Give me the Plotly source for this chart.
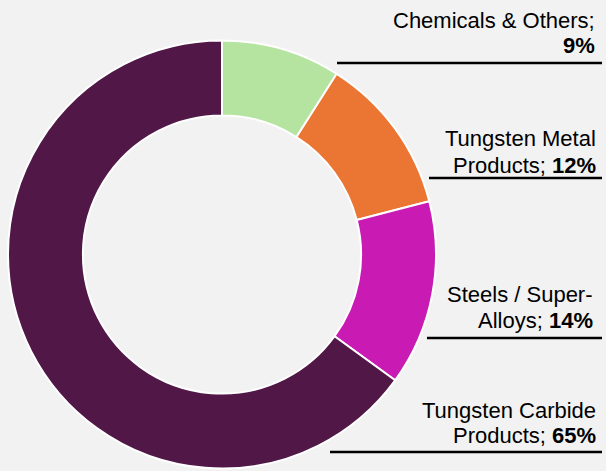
import plotly.graph_objects as go

categories = ["Chemicals & Others", "Tungsten Metal Products", "Steels / Super-Alloys", "Tungsten Carbide Products"]
values = [9, 12, 14, 65]
label_lines = [["Chemicals & Others;", ""], ["Tungsten Metal", "Products; "], ["Steels / Super-", "Alloys; "], ["Tungsten Carbide", "Products; "]]
colors = ["#b5e4a1", "#eb7533", "#c91ab4", "#501747"]

W, H = 606, 471
FS = 22
fig = go.Figure(go.Pie(
    labels=categories, values=values, sort=False, direction="clockwise", rotation=0,
    hole=0.65, textinfo="none", hoverinfo="label+percent",
    marker=dict(colors=colors, line=dict(color="white", width=2)),
    domain=dict(x=[8 / W, 436 / W], y=[2 / H, 431 / H]),
    showlegend=False,
))

# label line baselines, right edges and underline positions, in pixels
baselines = [[28, 53], [146, 173], [302, 328], [418, 443]]
text_right = [596, 597, 594, 597]
line_y = [63, 178, 338, 452]
line_x0 = [337, 429, 427, 330]
descent = 0.28 * FS

annotations = []
shapes = []
for i, (lines, v) in enumerate(zip(label_lines, values)):
    texts = [lines[0], lines[1] + "<b>%d%%</b>" % v]
    for t, b in zip(texts, baselines[i]):
        annotations.append(dict(
            text=t, xref="paper", yref="paper", x=text_right[i] / W, y=1 - (b + descent) / H,
            xanchor="right", yanchor="bottom", align="right", showarrow=False, borderpad=0,
            font=dict(family="Liberation Sans, Arial, sans-serif", size=FS, color="#000000"),
        ))
    shapes.append(dict(type="line", xref="paper", yref="paper",
                       x0=line_x0[i] / W, x1=602 / W, y0=1 - line_y[i] / H, y1=1 - line_y[i] / H,
                       line=dict(color="#000000", width=2.5)))

fig.update_layout(
    width=W, height=H, margin=dict(l=0, r=0, t=0, b=0),
    paper_bgcolor="#f2f2f2", plot_bgcolor="#f2f2f2",
    annotations=annotations, shapes=shapes,
)
fig.write_html("out.html", config={"displayModeBar": False},
               post_script="document.body.style.margin='0';document.body.style.padding='0';document.body.style.background='#f2f2f2';")
